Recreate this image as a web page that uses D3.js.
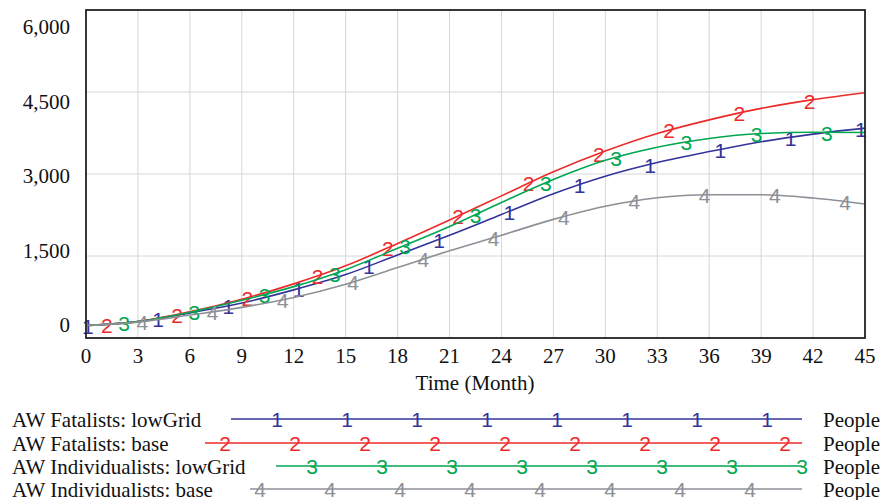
<!DOCTYPE html>
<html>
<head>
<meta charset="utf-8">
<script src="https://cdn.jsdelivr.net/npm/d3@7"></script>
<style>
  html, body { margin: 0; padding: 0; background: #fff; }
  svg { display: block; }
</style>
</head>
<body>
<svg id="chart" width="885" height="500"></svg>
<script>
// ---- data ----
const months = [0, 3, 6, 9, 12, 15, 18, 21, 24, 27, 30, 33, 36, 39, 42, 45];
const fatalistsLowGrid      = [230, 300, 460, 640, 880, 1160, 1520, 1880, 2260, 2640, 2960, 3210, 3410, 3590, 3730, 3840];
const fatalistsBase         = [230, 300, 480, 710, 990, 1320, 1730, 2160, 2600, 3040, 3420, 3740, 3990, 4200, 4360, 4487];
const individualistsLowGrid = [230, 300, 470, 690, 940, 1250, 1640, 2040, 2480, 2900, 3250, 3490, 3650, 3740, 3765, 3760];
const individualistsBase    = [230, 290, 420, 560, 740, 985, 1290, 1595, 1880, 2170, 2410, 2565, 2620, 2620, 2560, 2450];
const seriesNames = ["AW Fatalists: lowGrid", "AW Fatalists: base", "AW Individualists: lowGrid", "AW Individualists: base"];
const seriesMarks = ["1", "2", "3", "4"];
const seriesUnits = ["People", "People", "People", "People"];
const xTicks = [0, 3, 6, 9, 12, 15, 18, 21, 24, 27, 30, 33, 36, 39, 42, 45];
const yTicks = [0, 1500, 3000, 4500, 6000];
const xTitle = "Time (Month)";

// ---- layout ----
const colors = ["#333399", "#ee2a2a", "#00a651", "#8d9096"];
const plot = { left: 86, right: 865, top: 10, bottom: 338 };
const serif = "'Liberation Serif', 'Times New Roman', serif";
const sans = "'Liberation Sans', Arial, sans-serif";

const svg = d3.select("#chart");
const x = d3.scaleLinear().domain([0, 45]).range([plot.left, plot.right]);
const y = d3.scaleLinear().domain([0, 6000]).range([plot.bottom, plot.top]);
const yLabel = d3.scaleLinear().domain([0, 6000]).range([325, 27]);

// grid
const grid = svg.append("g");
grid.selectAll("line.vx").data(xTicks.slice(1, -1)).join("line")
  .attr("x1", d => x(d)).attr("x2", d => x(d))
  .attr("y1", plot.top).attr("y2", plot.bottom)
  .attr("stroke", "#d6d6d6").attr("stroke-width", 1);
grid.selectAll("line.hy").data(yTicks.slice(1, -1)).join("line")
  .attr("x1", plot.left).attr("x2", plot.right)
  .attr("y1", d => y(d)).attr("y2", d => y(d))
  .attr("stroke", "#d6d6d6").attr("stroke-width", 1);

// axes labels
svg.append("g").selectAll("text").data(xTicks).join("text")
  .attr("x", d => x(d)).attr("y", 356).attr("dy", "0.35em")
  .attr("text-anchor", "middle")
  .attr("font-family", serif).attr("font-size", 21).attr("fill", "#111")
  .text(d => d3.format("d")(d));
svg.append("g").selectAll("text").data(yTicks).join("text")
  .attr("x", 70).attr("y", d => yLabel(d)).attr("dy", "0.35em")
  .attr("text-anchor", "end")
  .attr("font-family", serif).attr("font-size", 21).attr("fill", "#111")
  .text(d => d3.format(",")(d));
svg.append("text").attr("x", 475).attr("y", 383).attr("dy", "0.35em")
  .attr("text-anchor", "middle").attr("font-family", serif).attr("font-size", 21).attr("fill", "#111")
  .text(xTitle);

// series
const allSeries = [fatalistsLowGrid, fatalistsBase, individualistsLowGrid, individualistsBase];
const line = d3.line().x((d, i) => x(months[i])).y(d => y(d)).curve(d3.curveMonotoneX);
const markerStart = [0.1, 1.2, 2.2, 3.25];
const markerStep = 4.06;

function pointAtX(path, px) {
  const len = path.getTotalLength();
  let lo = 0, hi = len;
  for (let k = 0; k < 40; k++) {
    const mid = (lo + hi) / 2;
    const p = path.getPointAtLength(mid);
    if (p.x < px) lo = mid; else hi = mid;
  }
  return path.getPointAtLength((lo + hi) / 2);
}

const seriesG = svg.append("g");
allSeries.forEach((vals, s) => {
  const p = seriesG.append("path").datum(vals)
    .attr("d", line).attr("fill", "none")
    .attr("stroke", colors[s]).attr("stroke-width", 1.6);
  const node = p.node();
  const times = d3.range(markerStart[s], 45.01, markerStep);
  seriesG.selectAll(null).data(times).join("text")
    .attr("x", t => x(t)).attr("y", t => pointAtX(node, x(t)).y + 1)
    .attr("dy", "0.35em").attr("text-anchor", "middle")
    .attr("font-family", sans).attr("font-size", 21).attr("fill", colors[s])
    .text(seriesMarks[s]);
});

// frame
svg.append("rect").attr("x", plot.left).attr("y", plot.top)
  .attr("width", plot.right - plot.left).attr("height", plot.bottom - plot.top)
  .attr("fill", "none").attr("stroke", "#222").attr("stroke-width", 1.8);

// legend
const legRowY = [420, 444, 467, 490];
const legLineStart = [231, 205, 276, 250];
const legMarkStart = [277, 225, 312, 260];
const legLineEnd = 802;
const leg = svg.append("g");
seriesNames.forEach((name, s) => {
  const yy = legRowY[s];
  leg.append("text").attr("x", 12).attr("y", yy).attr("dy", "0.35em")
    .attr("font-family", serif).attr("font-size", 21).attr("fill", "#111").text(name);
  leg.append("line").attr("x1", legLineStart[s]).attr("x2", legLineEnd)
    .attr("y1", yy - 1).attr("y2", yy - 1)
    .attr("stroke", colors[s]).attr("stroke-width", 1.6);
  const marks = d3.range(legMarkStart[s], legLineEnd + 1, 70);
  leg.selectAll(null).data(marks).join("text")
    .attr("x", d => d).attr("y", yy).attr("dy", "0.35em").attr("text-anchor", "middle")
    .attr("font-family", sans).attr("font-size", 21).attr("fill", colors[s])
    .text(seriesMarks[s]);
  leg.append("text").attr("x", 823).attr("y", yy).attr("dy", "0.35em")
    .attr("font-family", serif).attr("font-size", 21).attr("fill", "#111").text(seriesUnits[s]);
});
</script>
</body>
</html>
